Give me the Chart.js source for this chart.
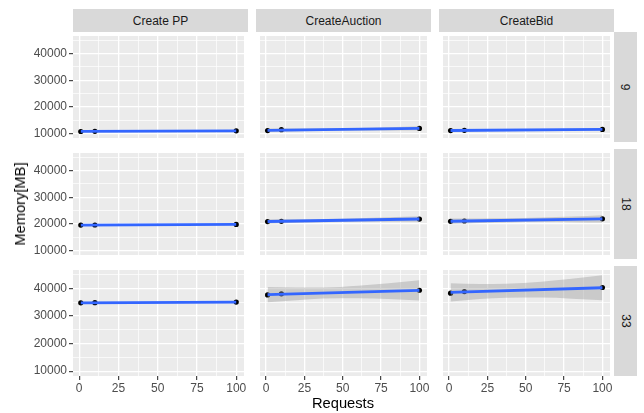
<!DOCTYPE html>
<html lang="en">
<head>
<meta charset="UTF-8">
<title>Memory vs Requests</title>
<script src="https://cdn.jsdelivr.net/npm/chart.js"></script>
<style>
  body { margin: 0; background: #fff; font-family: "Liberation Sans", Arial, sans-serif; }
  #wrap { position: relative; width: 644px; height: 413px; overflow: hidden; }
  #wrap canvas { position: absolute; }
  .strip { position: absolute; background: #d9d9d9; color: #1a1a1a; font-size: 12px;
           display: flex; align-items: center; justify-content: center; }
  .strip.side span { transform: rotate(90deg); white-space: nowrap; }
  .title { position: absolute; color: #000; font-size: 14.7px; white-space: nowrap;
           transform: translate(-50%, -50%); }
</style>
</head>
<body>
<div id="wrap"></div>
<script>
  // facets and x values
  const facets = ['Create PP', 'CreateAuction', 'CreateBid'];
  const cores = ['9', '18', '33'];
  const requests = [1, 10, 100];

  // memory [MB] per facet, one row per core count (9, 18, 33)
  const memCreatePP      = [[10700, 10750, 10950], [19500, 19550, 19750], [34750, 34800, 35000]];
  const memCreateAuction = [[11050, 11400, 11850], [20820, 20920, 21760], [37600, 38000, 39300]];
  const memCreateBid     = [[11050, 11160, 11500], [20920, 21040, 21860], [38250, 38800, 40300]];

  // linear fit, value at x = 1 and x = 100
  const fitX = [1, 100];
  const fitCreatePP      = [[10720, 10950], [19510, 19750], [34760, 35000]];
  const fitCreateAuction = [[11150, 11850], [20850, 21800], [37700, 39270]];
  const fitCreateBid     = [[11080, 11500], [20950, 21850], [38500, 40200]];

  // confidence band edges, read at these x values
  const bandX = [1, 20, 37, 60, 80, 100];
  const lowCreatePP = [
    [10640, 10698, 10744, 10791, 10819, 10840],
    [19430, 19490, 19537, 19587, 19617, 19640],
    [34680, 34740, 34787, 34837, 34867, 34890]];
  const highCreatePP = [
    [10800, 10830, 10864, 10923, 10987, 11060],
    [19590, 19622, 19657, 19719, 19785, 19860],
    [34840, 34872, 34907, 34969, 35035, 35110]];
  const lowCreateAuction = [
    [10550, 10784, 10965, 11077, 11089, 11050],
    [20050, 20372, 20616, 20766, 20788, 20740],
    [34910, 35701, 36271, 36386, 36103, 35610]];
  const highCreateAuction = [
    [11750, 11784, 11845, 12057, 12329, 12650],
    [21650, 21692, 21776, 22066, 22428, 22860],
    [40490, 40301, 40271, 40886, 41803, 42930]];
  const lowCreateBid = [
    [10730, 10871, 10983, 11050, 11065, 11050],
    [19890, 20253, 20517, 20636, 20588, 20460],
    [35200, 36126, 36618, 36658, 36263, 35650]];
  const highCreateBid = [
    [11430, 11451, 11483, 11610, 11765, 11950],
    [22010, 21993, 22037, 22336, 22748, 23240],
    [41800, 41526, 41618, 42368, 43449, 44750]];

  // axis ticks (majors labelled, minors in between)
  const xTicks = [0, 12.5, 25, 37.5, 50, 62.5, 75, 87.5, 100];
  const yTicks = [10000, 15000, 20000, 25000, 30000, 35000, 40000, 45000];

  const memory = [memCreatePP, memCreateAuction, memCreateBid];
  const fits = [fitCreatePP, fitCreateAuction, fitCreateBid];
  const lows = [lowCreatePP, lowCreateAuction, lowCreateBid];
  const highs = [highCreatePP, highCreateAuction, highCreateBid];

  const panelLeft = [73, 256, 439];
  const panelTop = [32, 149, 266];
  const panelW = 175, panelH = 110;

  const wrap = document.getElementById('wrap');

  const panelBg = {
    id: 'panelBg',
    beforeDraw(chart) {
      const a = chart.chartArea, ctx = chart.ctx;
      ctx.save();
      ctx.fillStyle = '#ebebeb';
      ctx.fillRect(a.left, a.top, a.right - a.left, a.bottom - a.top);
      ctx.restore();
    }
  };

  function isMajorX(v) { return v % 25 === 0; }
  function isMajorY(v) { return v % 10000 === 0; }

  function makePanel(r, c) {
    const padL = c === 0 ? panelLeft[0] : 0;
    const padB = r === 2 ? 30 : 0;
    const canvas = document.createElement('canvas');
    canvas.width = padL + panelW;
    canvas.height = panelH + padB;
    canvas.style.left = (panelLeft[c] - padL) + 'px';
    canvas.style.top = panelTop[r] + 'px';
    wrap.appendChild(canvas);

    new Chart(canvas, {
      type: 'scatter',
      data: {
        datasets: [
          {
            type: 'line',
            data: fitX.map((x, i) => ({ x: x, y: fits[c][r][i] })),
            borderColor: '#3366ff', borderWidth: 2.8, pointRadius: 0, fill: false
          },
          {
            type: 'line',
            data: bandX.map((x, i) => ({ x: x, y: highs[c][r][i] })),
            borderColor: 'transparent', borderWidth: 0, pointRadius: 0,
            cubicInterpolationMode: 'monotone',
            fill: '+1', backgroundColor: 'rgba(153,153,153,0.4)'
          },
          {
            type: 'line',
            data: bandX.map((x, i) => ({ x: x, y: lows[c][r][i] })),
            borderColor: 'transparent', borderWidth: 0, pointRadius: 0,
            cubicInterpolationMode: 'monotone', fill: false
          },
          {
            type: 'scatter',
            data: requests.map((x, i) => ({ x: x, y: memory[c][r][i] })),
            backgroundColor: '#000', borderColor: '#000', pointRadius: 2.6, borderWidth: 0
          }
        ]
      },
      options: {
        responsive: false,
        animation: false,
        layout: { padding: 0 },
        plugins: { legend: { display: false }, tooltip: { enabled: false } },
        scales: {
          x: {
            type: 'linear', min: -3.95, max: 104.95,
            afterBuildTicks: s => { s.ticks = xTicks.map(v => ({ value: v })); },
            afterFit: s => { s.height = padB; s.paddingLeft = 0; s.paddingRight = 0; },
            border: { display: false },
            grid: {
              color: '#fff',
              lineWidth: ctx => isMajorX(ctx.tick.value) ? 1.3 : 0.7,
              drawTicks: r === 2, tickLength: 4,
              tickColor: ctx => isMajorX(ctx.tick.value) ? '#333' : 'rgba(0,0,0,0)',
              tickWidth: 1.1
            },
            ticks: {
              display: r === 2, autoSkip: false, maxRotation: 0, padding: 1,
              color: '#4d4d4d', font: { family: 'Liberation Sans', size: 12 },
              callback: v => isMajorX(v) ? String(v) : ''
            }
          },
          y: {
            type: 'linear', min: 8256, max: 46628,
            afterBuildTicks: s => { s.ticks = yTicks.map(v => ({ value: v })); },
            afterFit: s => { s.width = padL; s.paddingTop = 0; s.paddingBottom = 0; },
            border: { display: false },
            grid: {
              color: '#fff',
              lineWidth: ctx => isMajorY(ctx.tick.value) ? 1.3 : 0.7,
              drawTicks: c === 0, tickLength: 4,
              tickColor: ctx => isMajorY(ctx.tick.value) ? '#333' : 'rgba(0,0,0,0)',
              tickWidth: 1.1
            },
            ticks: {
              display: c === 0, autoSkip: false, padding: 2,
              color: '#4d4d4d', font: { family: 'Liberation Sans', size: 12 },
              callback: v => isMajorY(v) ? String(v) : ''
            }
          }
        }
      },
      plugins: [panelBg]
    });
  }

  for (let r = 0; r < cores.length; r++) {
    for (let c = 0; c < facets.length; c++) makePanel(r, c);
  }

  // facet strips
  facets.forEach((name, c) => {
    const d = document.createElement('div');
    d.className = 'strip';
    d.style.cssText = `left:${panelLeft[c]}px;top:9px;width:${panelW}px;height:23px;`;
    d.textContent = name;
    wrap.appendChild(d);
  });
  cores.forEach((name, r) => {
    const d = document.createElement('div');
    d.className = 'strip side';
    d.style.cssText = `left:614px;top:${panelTop[r]}px;width:23px;height:${panelH}px;`;
    d.innerHTML = `<span>${name}</span>`;
    wrap.appendChild(d);
  });

  // axis titles
  const yt = document.createElement('div');
  yt.className = 'title';
  yt.style.cssText = 'left:20px;top:204px;transform:translate(-50%,-50%) rotate(-90deg);';
  yt.textContent = 'Memory[MB]';
  wrap.appendChild(yt);

  const xt = document.createElement('div');
  xt.className = 'title';
  xt.style.cssText = 'left:343px;top:403px;';
  xt.textContent = 'Requests';
  wrap.appendChild(xt);
</script>
</body>
</html>
